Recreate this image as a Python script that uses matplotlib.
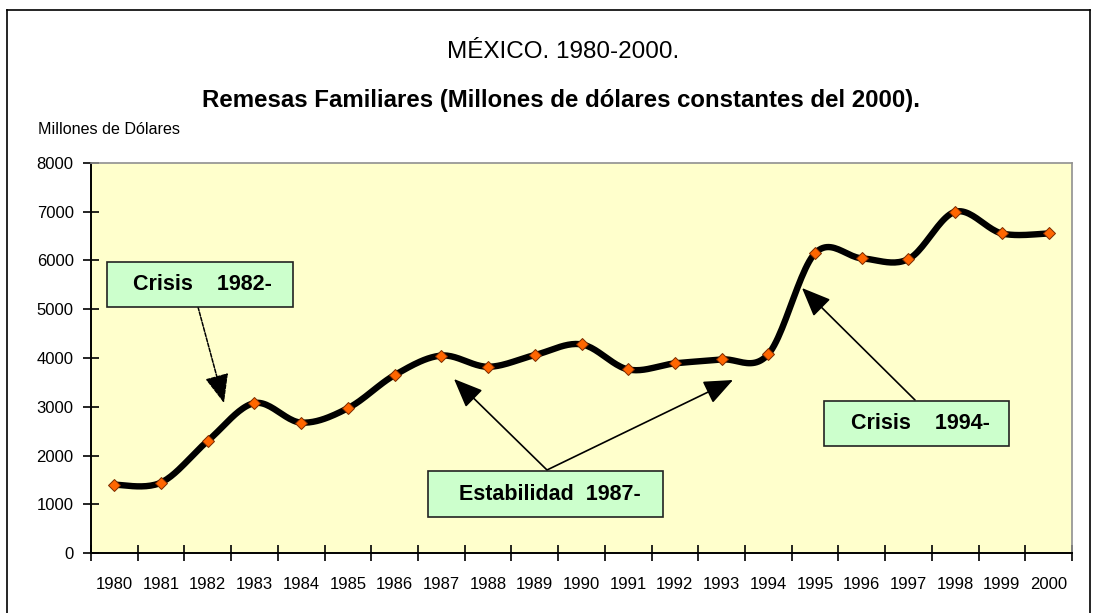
import numpy as np
import matplotlib
matplotlib.use("Agg")
import matplotlib.pyplot as plt
from matplotlib.patches import Rectangle
from matplotlib.lines import Line2D

years = [str(y) for y in range(1980, 2001)]
remesas = [1400, 1445, 2300, 3075, 2675, 2970, 3650, 4050, 3820, 4060, 4280,
           3765, 3890, 3970, 4080, 6150, 6045, 6030, 7000, 6555, 6555]
yticks = [0, 1000, 2000, 3000, 4000, 5000, 6000, 7000, 8000]

title1 = "MÉXICO. 1980-2000."
title2 = "Remesas Familiares (Millones de dólares constantes del 2000)."
ylabel = "Millones de Dólares"

FONT = ['Liberation Sans', 'DejaVu Sans']

def catmull_rom(xs, ys, n=24):
    xs = np.asarray(xs, float); ys = np.asarray(ys, float)
    px = np.concatenate([[xs[0]], xs, [xs[-1]]])
    py = np.concatenate([[ys[0]], ys, [ys[-1]]])
    outx, outy = [], []
    t = np.linspace(0, 1, n, endpoint=False)
    for i in range(1, len(px) - 2):
        for arr, out in ((px, outx), (py, outy)):
            p0, p1, p2, p3 = arr[i-1], arr[i], arr[i+1], arr[i+2]
            c1 = p1 + (p2 - p0) / 6.0
            c2 = p2 - (p3 - p1) / 6.0
            b = ((1-t)**3*p1 + 3*(1-t)**2*t*c1 + 3*(1-t)*t**2*c2 + t**3*p2)
            out.extend(b)
    outx.append(xs[-1]); outy.append(ys[-1])
    return np.array(outx), np.array(outy)

W, H = 1096, 613
fig = plt.figure(figsize=(W/100, H/100), dpi=100)
fig.patch.set_facecolor('white')

# outer frame
for (x0, y0, x1, y1) in [(7, 10, 1090, 10), (7, 10, 7, 620), (1090, 10, 1090, 620)]:
    fig.add_artist(Line2D([x0/W, x1/W], [1-y0/H, 1-y1/H], color='black', lw=1.2,
                          transform=fig.transFigure))

L, R, T, B = 91, 1072, 163, 553
ax = fig.add_axes([L/W, 1-B/H, (R-L)/W, (B-T)/H])
ax.set_facecolor('#FFFFCC')

x = np.arange(len(years))
sx, sy = catmull_rom(x, remesas)
ax.plot(sx, sy, color='black', lw=4.6, solid_capstyle='round', zorder=3)
ax.plot(x, remesas, linestyle='none', marker='D', markersize=6.5,
        markerfacecolor='#FF6600', markeredgecolor='#7a2a00', markeredgewidth=0.7, zorder=4)

ax.set_xlim(-0.5, len(years) - 0.5)
ax.set_ylim(0, 8000)
ax.set_yticks(yticks)
ax.set_yticklabels([str(v) for v in yticks], family=FONT, fontsize=12)
ax.set_xticks(x)
ax.set_xticklabels(years, family=FONT, fontsize=12)
ax.set_xticks(np.arange(-0.5, len(years), 1.0), minor=True)
ax.tick_params(axis='x', which='major', length=0, pad=17)
ax.tick_params(axis='x', which='minor', direction='inout', length=11, width=1.2)
ax.tick_params(axis='y', direction='inout', length=11, width=1.2, pad=7)

for s in ['left', 'bottom']:
    ax.spines[s].set_color('black'); ax.spines[s].set_linewidth(1.4)
for s in ['top', 'right']:
    ax.spines[s].set_color('#909090'); ax.spines[s].set_linewidth(1.2)

fig.text(563/W, 1-52/H, title1, ha='center', va='center', family=FONT, fontsize=17.5)
fig.text(561/W, 1-100/H, title2, ha='center', va='center', family=FONT, fontsize=17.3,
         fontweight='bold')
fig.text(38/W, 1-130/H, ylabel, ha='left', va='center', family=FONT, fontsize=11.6)

def px2ax(px, py):
    return ((px - L) / (R - L), (B - py) / (B - T))

def box(x0, y0, x1, y1, text, tx):
    a0 = px2ax(x0, y1); a1 = px2ax(x1, y0)
    ax.add_patch(Rectangle(a0, a1[0]-a0[0], a1[1]-a0[1], transform=ax.transAxes,
                           facecolor='#CCFFCC', edgecolor='#222222', lw=1.2, zorder=6))
    ax.text(px2ax(tx, 0)[0], (a0[1]+a1[1])/2, text, transform=ax.transAxes,
            ha='center', va='center', family=FONT, fontweight='bold', fontsize=15.5, zorder=7)

def arrow(sx_, sy_, tx, ty, lw=1.2, ls='-'):
    ax.annotate('', xy=px2ax(tx, ty), xytext=px2ax(sx_, sy_),
                xycoords='axes fraction', textcoords='axes fraction',
                arrowprops=dict(arrowstyle='-|>,head_length=1.8,head_width=0.75',
                                color='black', lw=lw, shrinkA=0, shrinkB=0, linestyle=ls),
                zorder=5)

box(107, 262, 293, 307, "Crisis    1982-", 202)
arrow(198, 307, 224, 403, lw=1.1, ls=(0, (2.5, 1)))
box(428, 471, 663, 517, "Estabilidad  1987-", 550)
arrow(547, 470, 454, 379)
arrow(547, 470, 733, 380)
box(824, 401, 1009, 446, "Crisis    1994-", 920)
arrow(915, 400, 802, 288)

fig.savefig('out.png', dpi=100)
